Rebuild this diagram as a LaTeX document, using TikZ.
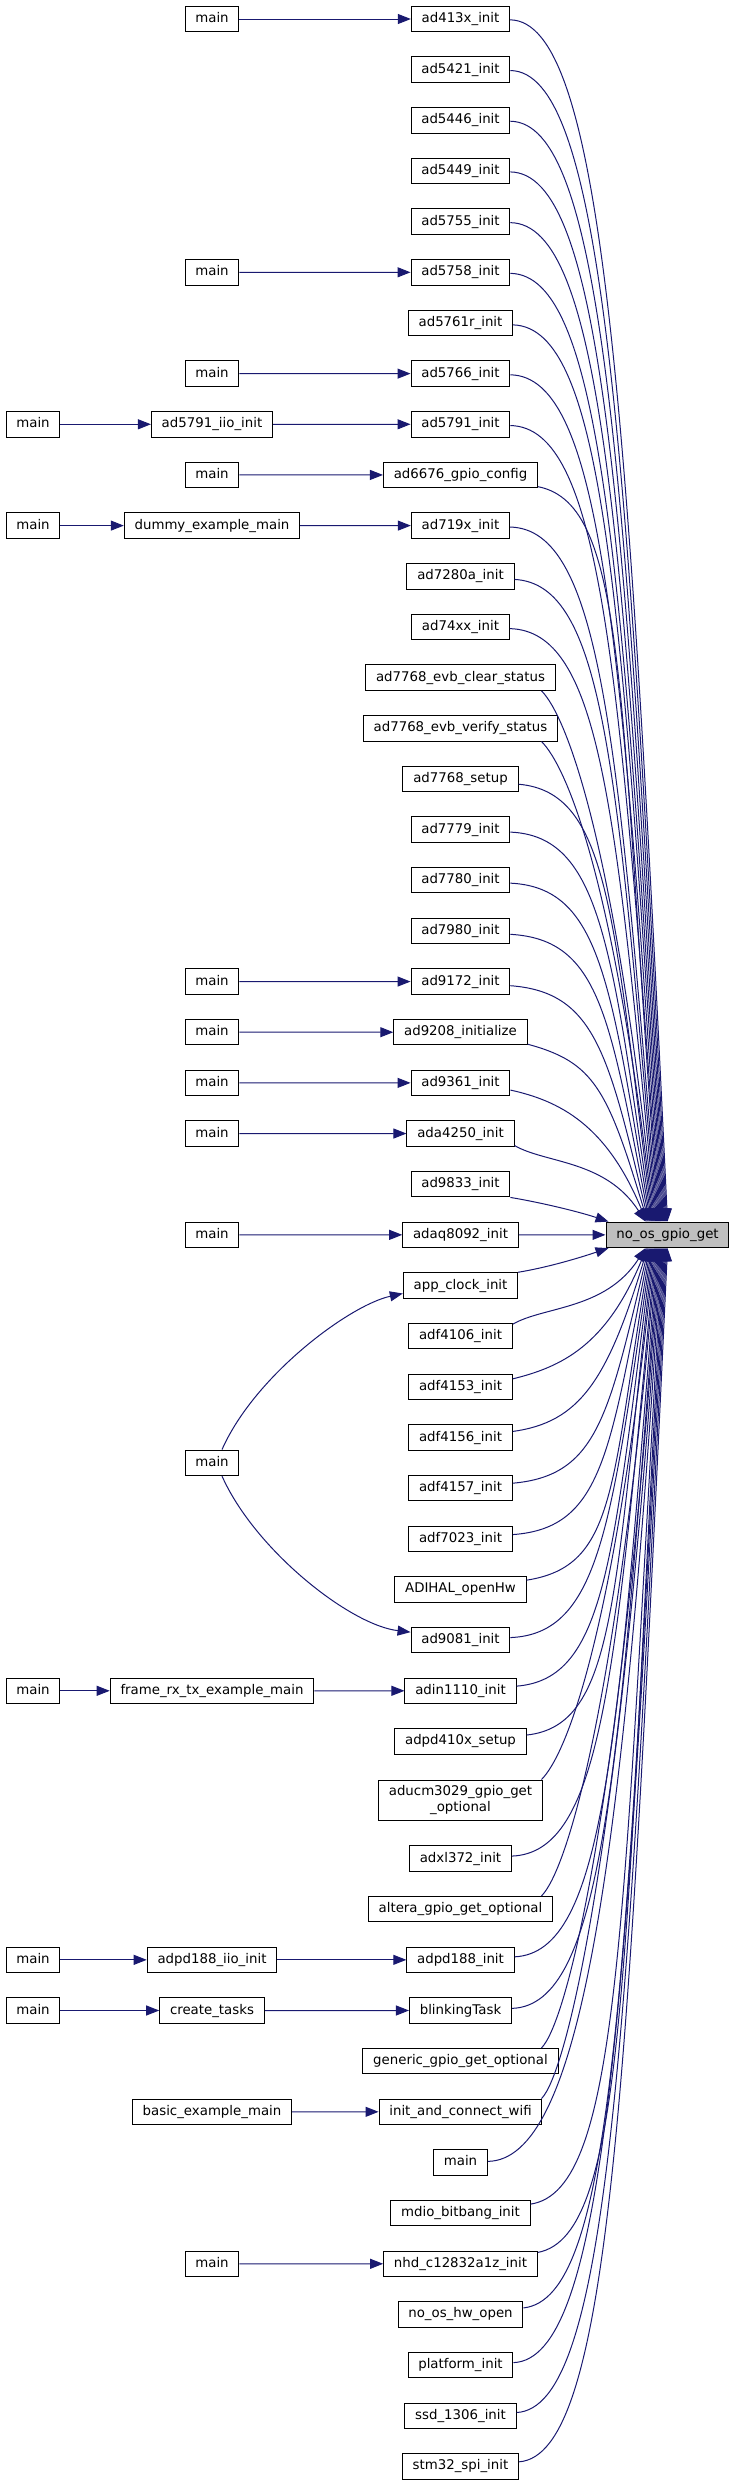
\documentclass[tikz,border=0pt]{standalone}
\usepackage{fontspec}
\setmainfont{DejaVu Sans}
\usetikzlibrary{arrows.meta,calc}
\definecolor{edgec}{HTML}{191970}
\definecolor{tgray}{HTML}{BFBFBF}
\newcommand\setrowy[1]{\pgfmathsetmacro\yy{(#1<36) ? 19+(#1-1)*50.66 : ((#1==36) ? 1800 : 1858.5+(#1-37)*50.66)}}
\tikzset{
  box/.style={draw=black, line width=1pt, fill=white, inner xsep=10.3pt, inner ysep=0pt,
    minimum height=25.5pt, text height=10pt, text depth=3pt,
    font=\fontsize{13.33pt}{16pt}\selectfont},
  box2/.style={draw=black, line width=1pt, fill=white, inner xsep=10.3pt, inner ysep=4pt,
    minimum height=40pt, align=center, font=\fontsize{13.33pt}{16pt}\selectfont},
  edge/.style={draw=edgec, line width=1pt, -{Triangle[length=13pt,width=10pt,fill=edgec]}}
}
\begin{document}
\begin{tikzpicture}[x=1pt,y=-1pt]
\useasboundingbox (0,0) rectangle (731,2485);
% middle column
\foreach \i/\txt in {1/ad413x\_init, 2/ad5421\_init, 3/ad5446\_init, 4/ad5449\_init,
  5/ad5755\_init, 6/ad5758\_init, 7/ad5761r\_init, 8/ad5766\_init, 9/ad5791\_init,
  10/ad6676\_gpio\_config, 11/ad719x\_init, 12/ad7280a\_init, 13/ad74xx\_init,
  14/ad7768\_evb\_clear\_status, 15/ad7768\_evb\_verify\_status, 16/ad7768\_setup,
  17/ad7779\_init, 18/ad7780\_init, 19/ad7980\_init, 20/ad9172\_init,
  21/ad9208\_initialize, 22/ad9361\_init, 23/ada4250\_init, 24/ad9833\_init,
  25/adaq8092\_init, 26/app\_clock\_init, 27/adf4106\_init, 28/adf4153\_init,
  29/adf4156\_init, 30/adf4157\_init, 31/adf7023\_init, 32/ADIHAL\_openHw,
  33/ad9081\_init, 34/adin1110\_init, 35/adpd410x\_setup, 37/adxl372\_init,
  38/altera\_gpio\_get\_optional, 39/adpd188\_init, 40/blinkingTask,
  41/generic\_gpio\_get\_optional, 42/init\_and\_connect\_wifi, 43/main,
  44/mdio\_bitbang\_init, 45/nhd\_c12832a1z\_init, 46/no\_os\_hw\_open,
  47/platform\_init, 48/ssd\_1306\_init, 49/stm32\_spi\_init}
{
  \setrowy{\i}
  \node[box] (c\i) at (460.5,\yy) {\txt};
}
\node[box2] (c36) at (460.5,1800) {aducm3029\_gpio\_get\\\_optional};
% target
\node[box, fill=tgray] (t) at (667.5,1234.84) {no\_os\_gpio\_get};
% left nodes
\node[box] (m1) at (212,19) {main};
\node[box] (m6) at (212,272.30) {main};
\node[box] (m8) at (212,373.62) {main};
\node[box] (a9) at (33,424.28) {main};
\node[box] (b9) at (212,424.28) {ad5791\_iio\_init};
\node[box] (m10) at (212,474.94) {main};
\node[box] (a11) at (33,525.60) {main};
\node[box] (b11) at (212,525.60) {dummy\_example\_main};
\node[box] (m20) at (212,981.54) {main};
\node[box] (m21) at (212,1032.20) {main};
\node[box] (m22) at (212,1082.86) {main};
\node[box] (m23) at (212,1133.52) {main};
\node[box] (m25) at (212,1234.84) {main};
\node[box] (mx) at (212,1462.81) {main};
\node[box] (a34) at (33,1690.78) {main};
\node[box] (b34) at (212,1690.78) {frame\_rx\_tx\_example\_main};
\node[box] (a39) at (33,1959.82) {main};
\node[box] (b39) at (212,1959.82) {adpd188\_iio\_init};
\node[box] (a40) at (33,2010.48) {main};
\node[box] (b40) at (212,2010.48) {create\_tasks};
\node[box] (b42) at (212,2111.80) {basic\_example\_main};
\node[box] (m45) at (212,2263.78) {main};
% left horizontal edges
\foreach \s/\d in {m1/c1, m6/c6, m8/c8, a9/b9, b9/c9, m10/c10, a11/b11, b11/c11,
  m20/c20, m21/c21, m22/c22, m23/c23, m25/c25, a34/b34, b34/c34, a39/b39, b39/c39,
  a40/b40, b40/c40, b42/c42, m45/c45}
  \draw[edge] (\s) -- (\d);
\draw[edge] ($(mx.north)+(10,0)$) .. controls (255,1375) and (350,1305) .. ($(c26.west)+(0,8)$);
\draw[edge] ($(mx.south)+(10,0)$) .. controls (255,1550) and (350,1625) .. ($(c33.west)+(0,-8)$);
% upper edges into target
\foreach \i/\r in {1/510, 2/510, 3/510, 4/510, 5/510, 6/510, 7/512, 8/510, 9/510, 10/536,
  11/510, 12/514, 13/510, 16/517.6, 17/510, 18/510, 19/510, 20/510, 21/527, 22/510, 23/514}
{
  \setrowy{\i}
  \pgfmathsetmacro\dy{1222-\yy}
  \pgfmathsetmacro\off{min(12,1000/\dy+max(0,0.4*(\r-510)))}
  \pgfmathsetmacro\ca{min(90,0.35*\dy)}
  \pgfmathsetmacro\cb{0.7*\dy}
  \pgfmathsetmacro\cc{1.5*\off}
  \pgfmathsetmacro\xo{40+(23-\i)}
  \draw[edge] ($(c\i.east)+(0,\off)$) .. controls +(\ca,\cc) and +(-40,-\cb) .. ($(t.north west)+(\xo,0)$);
}
\foreach \i in {14,15}
{
  \setrowy{\i}
  \pgfmathsetmacro\dy{1222-\yy}
  \pgfmathsetmacro\cb{0.7*\dy}
  \pgfmathsetmacro\xo{40+(23-\i)}
  \draw[edge] ($(c\i.south)+(81,0)$) .. controls +(25,25) and +(-40,-\cb) .. ($(t.north west)+(\xo,0)$);
}
% lower edges into target
\foreach \i/\r in {27/512, 28/512, 29/512, 30/512, 31/512, 32/526, 33/510, 34/516, 35/521,
  37/512, 39/514, 40/512, 43/487.6, 44/530, 45/536, 46/524, 47/514, 48/516, 49/519.5}
{
  \setrowy{\i}
  \pgfmathsetmacro\dy{\yy-1247.6}
  \pgfmathsetmacro\off{min(12,1000/\dy+max(0,0.4*(\r-510)))}
  \pgfmathsetmacro\ca{min(90,0.35*\dy)}
  \pgfmathsetmacro\cb{0.7*\dy}
  \pgfmathsetmacro\cc{1.5*\off}
  \pgfmathsetmacro\xo{40+(\i-27)}
  \draw[edge] ($(c\i.east)+(0,-\off)$) .. controls +(\ca,-\cc) and +(-40,\cb) .. ($(t.south west)+(\xo,0)$);
}
\foreach \i in {36,38,41,42}
{
  \setrowy{\i}
  \pgfmathsetmacro\dy{\yy-1247.6}
  \pgfmathsetmacro\cb{0.7*\dy}
  \pgfmathsetmacro\xo{40+(\i-27)}
  \draw[edge] ($(c\i.north)+(81,0)$) .. controls +(25,-25) and +(-40,\cb) .. ($(t.south west)+(\xo,0)$);
}
% special edges
\draw[edge] (c24.south east) .. controls +(30,5) and +(-30,-10) .. ($(t.north west)+(3,0)$);
\draw[edge] (c25) -- (t);
\draw[edge] (c26.north east) .. controls +(30,-5) and +(-30,10) .. ($(t.south west)+(3,0)$);
\end{tikzpicture}
\end{document}
